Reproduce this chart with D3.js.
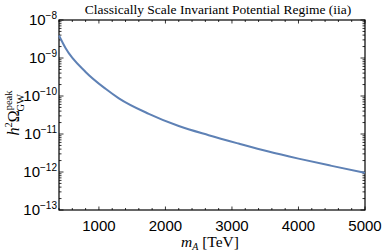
<!DOCTYPE html>
<html>
<head>
<meta charset="utf-8">
<script src="https://cdn.jsdelivr.net/npm/d3@7"></script>
<style>
  body { margin: 0; background: #fff; }
  svg { display: block; }
</style>
</head>
<body>
<svg width="383" height="251"></svg>
<script>
// dati
var massa = [400, 500, 800, 1100, 1300, 1750, 2200, 2650, 3100, 3550, 4000, 4500, 5000];
var omega = [3.9e-9, 1.8e-9, 4.3e-10, 1.55e-10, 8.7e-11, 3.4e-11, 1.62e-11,
             9.3e-12, 5.6e-12, 3.45e-12, 2.25e-12, 1.45e-12, 9.5e-13];
var x_ticks = [1000, 2000, 3000, 4000, 5000];
var y_esponenti = [-8, -9, -10, -11, -12, -13];

var svg = d3.select("svg"),
  sx = 59, dx = 365, alto = 20, basso = 210,
  x = d3.scaleLinear().domain([400, 5000]).range([sx, dx]),
  y = d3.scaleLog().domain([1e-13, 1e-8]).range([basso, alto]);

var assi = svg.append('g').attr('class', 'assi');

// tacche x (ogni 200, maggiori ogni 1000)
d3.range(400, 5001, 200).forEach(function(v){
  var l = (v % 1000 == 0) ? 3.5 : 2;
  assi.append('line').attr('x1', x(v)).attr('x2', x(v))
    .attr('y1', basso).attr('y2', basso - l).attr('stroke', '#000').attr('stroke-width', 0.8);
  assi.append('line').attr('x1', x(v)).attr('x2', x(v))
    .attr('y1', alto).attr('y2', alto + l).attr('stroke', '#000').attr('stroke-width', 0.8);
});

// tacche y logaritmiche
y.ticks().forEach(function(v){
  var m = Math.round(v / Math.pow(10, Math.floor(Math.log10(v) + 1e-9)));
  var l = (m == 1) ? 4.5 : 2.5;
  assi.append('line').attr('x1', sx).attr('x2', sx + l)
    .attr('y1', y(v)).attr('y2', y(v)).attr('stroke', '#000').attr('stroke-width', 0.8);
  assi.append('line').attr('x1', dx).attr('x2', dx - l)
    .attr('y1', y(v)).attr('y2', y(v)).attr('stroke', '#000').attr('stroke-width', 0.8);
});

// cornice
assi.append('rect').attr('x', sx).attr('y', alto)
  .attr('width', dx - sx).attr('height', basso - alto)
  .attr('fill', 'none').attr('stroke', '#000').attr('stroke-width', 1.2);

// etichette x
x_ticks.forEach(function(v){
  assi.append('text').attr('x', x(v)).attr('y', basso + 21)
    .attr('text-anchor', 'middle')
    .style('font-family', 'Liberation Sans, Arial, sans-serif').style('font-size', '15px')
    .text(v);
});

// etichette y
y_esponenti.forEach(function(e){
  var t = assi.append('text').attr('x', sx - 2).attr('y', y(Math.pow(10, e)) + 5)
    .attr('text-anchor', 'end')
    .style('font-family', 'Liberation Sans, Arial, sans-serif').style('font-size', '15px');
  t.append('tspan').text('10');
  t.append('tspan').attr('dy', -6).style('font-size', '10px').text('\u2212' + Math.abs(e));
});

// curva
var linea = d3.line()
  .x(function(d, i){ return x(massa[i]); })
  .y(function(d, i){ return y(omega[i]); })
  .curve(d3.curveMonotoneX);

svg.append('path').datum(omega)
  .attr('d', linea)
  .attr('fill', 'none')
  .attr('stroke', '#5E81B5')
  .attr('stroke-width', 2);

// titolo
svg.append('text').attr('x', 218).attr('y', 14)
  .attr('text-anchor', 'middle')
  .style('font-family', 'Liberation Serif, Times New Roman, serif').style('font-size', '13.5px')
  .text('Classically Scale Invariant Potential Regime (iia)');

// etichetta asse x
var tx = svg.append('text').attr('x', 210).attr('y', 246.5)
  .attr('text-anchor', 'middle')
  .style('font-family', 'Liberation Serif, Times New Roman, serif').style('font-size', '15.5px');
tx.append('tspan').style('font-style', 'italic').text('m');
tx.append('tspan').attr('dy', 3).style('font-size', '10px').style('font-style', 'italic').text('A');
tx.append('tspan').attr('dy', -3).text(' [TeV]');

// etichetta asse y
var ty = svg.append('text')
  .attr('transform', 'translate(19,' + 113 + ') rotate(-90)')
  .attr('text-anchor', 'middle')
  .style('font-family', 'Liberation Serif, Times New Roman, serif').style('font-size', '16px');
ty.append('tspan').style('font-style', 'italic').text('h');
ty.append('tspan').attr('dy', -7).style('font-size', '10.5px').text('2');
ty.append('tspan').attr('dy', 7).text('\u03A9');
ty.append('tspan').attr('dy', -7).style('font-size', '10.5px').text('peak');
ty.append('tspan').attr('dx', -21).attr('dy', 12).style('font-size', '10.5px').text('GW');
</script>
</body>
</html>
